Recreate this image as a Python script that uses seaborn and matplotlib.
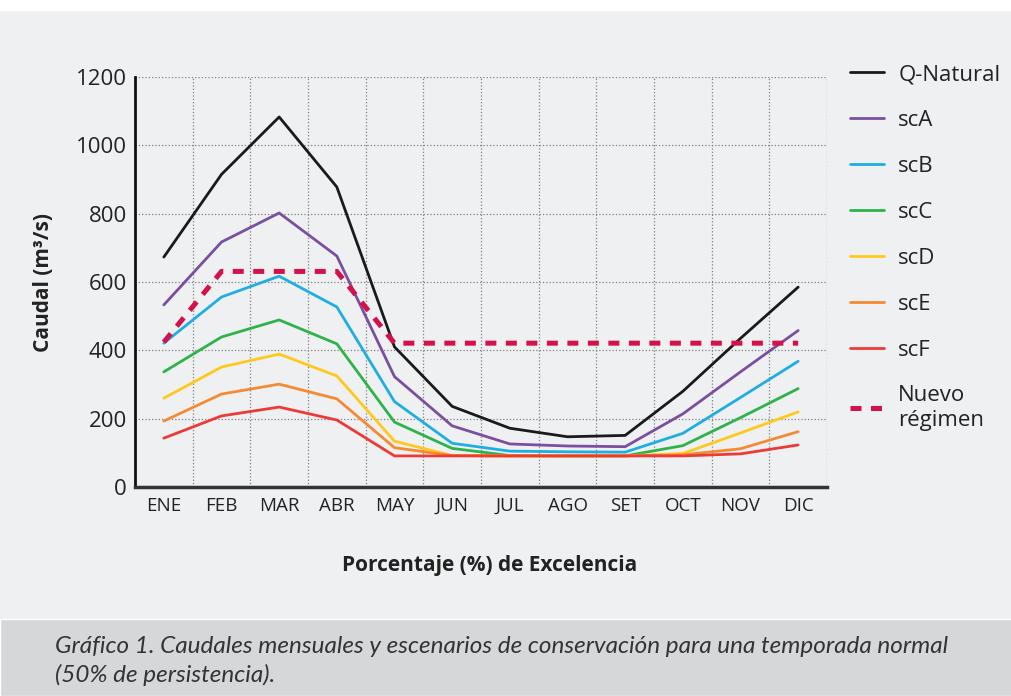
###### Libraries

import numpy as np
import pandas as pd
import matplotlib.pyplot as plt
import seaborn as sns
from matplotlib.patches import Rectangle

###### Data

meses = ["ENE", "FEB", "MAR", "ABR", "MAY", "JUN", "JUL", "AGO", "SET", "OCT", "NOV", "DIC"]

q_natural = [673, 915, 1083, 878, 410, 236, 172, 147, 151, 280, 435, 585]
sc_a = [533, 717, 802, 676, 323, 179, 126, 120, 118, 214, 337, 458]
sc_b = [421, 556, 617, 527, 250, 128, 105, 103, 102, 157, 262, 368]
sc_c = [337, 439, 489, 419, 190, 113, 92, 91, 91, 121, 203, 288]
sc_d = [260, 351, 389, 325, 134, 92, 91, 91, 91, 98, 158, 220]
sc_e = [193, 272, 301, 258, 115, 92, 91, 91, 91, 94, 112, 162]
sc_f = [143, 208, 234, 196, 91, 91, 91, 91, 91, 91, 97, 123]
nuevo = [424, 631, 631, 631, 421, 421, 421, 421, 421, 421, 421, 421]

series = ["Q-Natural", "scA", "scB", "scC", "scD", "scE", "scF", "Nuevo\nrégimen"]
colores = ["#1a1a1a", "#7b4fa0", "#1eaee4", "#2db34a", "#ffc91b", "#f58a32", "#ee3a36", "#d4114a"]

df = pd.DataFrame({"mes": meses * 8,
                   "caudal": q_natural + sc_a + sc_b + sc_c + sc_d + sc_e + sc_f + nuevo,
                   "serie": np.repeat(series, 12)})

###### Plot

sns.set_style("white")
plt.rcParams["font.family"] = ["Open Sans", "DejaVu Sans"]

fig = plt.figure(figsize=(10.12, 6.96), dpi=100, facecolor="#eff0f2")
fig.patches.append(Rectangle((0, 1 - 10/696), 1, 10/696, transform=fig.transFigure,
                             facecolor="white", zorder=0))
fig.patches.append(Rectangle((0, 0), 1, 77/696, transform=fig.transFigure,
                             facecolor="#d6d7d9", zorder=0))

ax = fig.add_axes([135/1012, 1 - 487/696, 692/1012, 410/696])
ax.set_facecolor("#eff0f2")

for serie, color in zip(series, colores):
    d = df[df["serie"] == serie]
    if serie.startswith("Nuevo"):
        sns.lineplot(data=d, x="mes", y="caudal", color=color, lw=3.6, ax=ax,
                     label=serie, zorder=3).lines[-1].set_dashes((2.2, 1.9))
    else:
        sns.lineplot(data=d, x="mes", y="caudal", color=color, lw=2, ax=ax, label=serie, zorder=3)

ax.set_xlim(-0.5, 11.5)
ax.set_ylim(0, 1200)
ax.set_yticks(range(0, 1201, 200))
ax.set_xticks(np.arange(-0.5, 12), minor=True)
ax.grid(axis="y", which="major", ls=":", color="#808080", lw=0.9)
ax.grid(axis="x", which="minor", ls=":", color="#808080", lw=0.9)
ax.tick_params(axis="both", which="both", length=0)
ax.tick_params(axis="y", labelsize=16, pad=6, labelcolor="#222222")
ax.tick_params(axis="x", labelsize=13.5, pad=7, labelcolor="#222222")

for s in ["top", "right"]:
    ax.spines[s].set_visible(False)
ax.spines["left"].set_color("#111111")
ax.spines["left"].set_linewidth(2)
ax.spines["bottom"].set_color("#333333")
ax.spines["bottom"].set_linewidth(2.5)

ax.set_ylabel("Caudal (m³/s)", fontsize=15, fontweight="bold", color="#222222")
ax.set_xlabel("Porcentaje (%) de Excelencia", fontsize=15, fontweight="bold", color="#222222")
ax.yaxis.set_label_coords(-0.117, 0.5)
ax.xaxis.set_label_coords(0.513, -0.167)

ax.legend(loc="upper left", bbox_to_anchor=(1.005, 1.08), frameon=False, fontsize=16,
          handlelength=1.5, handletextpad=0.65, labelspacing=1.12, labelcolor="#222222")

fig.text(55/1012, 1 - 661/696, "Gráfico 1. Caudales mensuales y escenarios de conservación para una temporada normal\n(50% de persistencia).",
         fontsize=17.5, style="italic", color="#333333", va="center", ha="left", linespacing=1.35,
         family=["Lato", "DejaVu Sans"])

plt.savefig("out.png", dpi=100, facecolor=fig.get_facecolor())
